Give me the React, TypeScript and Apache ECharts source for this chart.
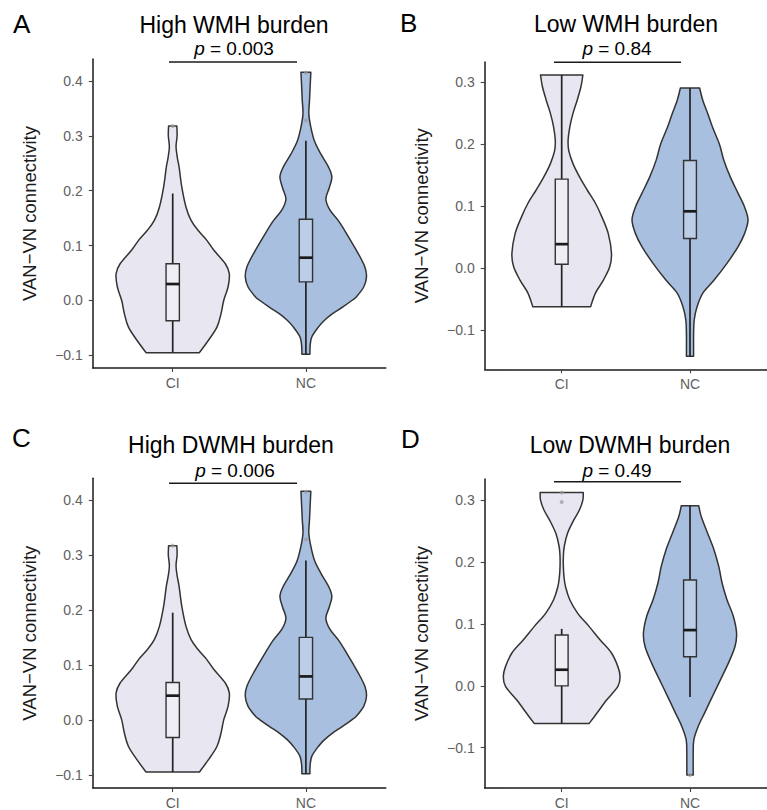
import React, { useEffect, useRef } from "react";
import * as echarts from "echarts";

// ---------- data ----------
const categories = ["CI", "NC"];
const yTicksHigh = [-0.1, 0, 0.1, 0.2, 0.3, 0.4];
const yTicksLow = [-0.1, 0, 0.1, 0.2, 0.3];

const panelLetters = ["A", "B", "C", "D"];
const panelTitles = ["High WMH burden", "Low WMH burden", "High DWMH burden", "Low DWMH burden"];
const pValues = ["0.003", "0.84", "0.006", "0.49"];

// violin profiles: [value, half-width in category units], top to bottom
const violinA_CI = [
  [0.318, 0.031], [0.3, 0.033], [0.28, 0.025], [0.26, 0.035], [0.243, 0.048], [0.207, 0.068],
  [0.17, 0.1], [0.146, 0.138], [0.128, 0.19], [0.11, 0.255], [0.092, 0.308], [0.067, 0.395],
  [0.049, 0.425], [0.025, 0.416], [0.0, 0.383], [-0.024, 0.363], [-0.048, 0.333], [-0.072, 0.27],
  [-0.095, 0.2],
];
const violinA_NC = [
  [0.416, 0.037], [0.39, 0.032], [0.364, 0.027], [0.34, 0.022], [0.316, 0.037], [0.29, 0.065],
  [0.267, 0.112], [0.243, 0.17], [0.225, 0.195], [0.205, 0.175], [0.185, 0.15], [0.165, 0.18],
  [0.145, 0.245], [0.122, 0.305], [0.086, 0.392], [0.061, 0.443], [0.043, 0.455], [0.025, 0.435],
  [0.007, 0.38], [0.0, 0.345], [-0.012, 0.275], [-0.024, 0.2], [-0.036, 0.14], [-0.048, 0.095],
  [-0.066, 0.045], [-0.082, 0.032], [-0.098, 0.03],
];
const violinB_CI = [
  [0.312, 0.165], [0.293, 0.15], [0.271, 0.12], [0.25, 0.088], [0.228, 0.063], [0.207, 0.05],
  [0.19, 0.055], [0.169, 0.088], [0.148, 0.138], [0.126, 0.2], [0.105, 0.263], [0.083, 0.313],
  [0.056, 0.363], [0.024, 0.388], [0.003, 0.375], [-0.019, 0.325], [-0.04, 0.263], [-0.062, 0.225],
];
const violinB_NC = [
  [0.291, 0.075], [0.271, 0.1], [0.25, 0.138], [0.228, 0.175], [0.2, 0.23], [0.175, 0.263],
  [0.148, 0.313], [0.121, 0.375], [0.099, 0.425], [0.078, 0.452], [0.056, 0.425], [0.035, 0.375],
  [0.008, 0.288], [-0.019, 0.188], [-0.04, 0.1], [-0.062, 0.055], [-0.083, 0.033], [-0.105, 0.028],
  [-0.142, 0.028],
];
const violinC_CI = [
  [0.317, 0.031], [0.3, 0.033], [0.28, 0.025], [0.26, 0.035], [0.243, 0.048], [0.207, 0.068],
  [0.17, 0.1], [0.146, 0.138], [0.128, 0.19], [0.11, 0.255], [0.092, 0.308], [0.067, 0.395],
  [0.049, 0.425], [0.025, 0.416], [0.0, 0.383], [-0.024, 0.363], [-0.048, 0.333], [-0.072, 0.27],
  [-0.095, 0.2],
];
const violinC_NC = [
  [0.416, 0.037], [0.39, 0.032], [0.364, 0.027], [0.34, 0.022], [0.316, 0.037], [0.29, 0.065],
  [0.267, 0.112], [0.243, 0.17], [0.225, 0.195], [0.205, 0.175], [0.185, 0.15], [0.165, 0.18],
  [0.145, 0.245], [0.122, 0.305], [0.086, 0.392], [0.061, 0.443], [0.043, 0.455], [0.025, 0.435],
  [0.007, 0.38], [0.0, 0.345], [-0.012, 0.275], [-0.024, 0.2], [-0.036, 0.14], [-0.048, 0.095],
  [-0.066, 0.045], [-0.082, 0.032], [-0.098, 0.03],
];
const violinD_CI = [
  [0.312, 0.168], [0.3, 0.165], [0.284, 0.138], [0.268, 0.095], [0.246, 0.045], [0.225, 0.02],
  [0.209, 0.013], [0.192, 0.013], [0.176, 0.018], [0.16, 0.03], [0.139, 0.063], [0.117, 0.125],
  [0.096, 0.213], [0.074, 0.3], [0.053, 0.388], [0.031, 0.438], [0.015, 0.455], [-0.001, 0.438],
  [-0.023, 0.35], [-0.044, 0.275], [-0.061, 0.213],
];
const violinD_NC = [
  [0.291, 0.068], [0.273, 0.088], [0.246, 0.138], [0.219, 0.188], [0.192, 0.225], [0.166, 0.25],
  [0.139, 0.288], [0.112, 0.338], [0.085, 0.363], [0.063, 0.35], [0.037, 0.3], [0.01, 0.238],
  [-0.017, 0.175], [-0.044, 0.113], [-0.066, 0.063], [-0.087, 0.03], [-0.109, 0.025], [-0.144, 0.025],
];

// box stats: [whisker low, Q1, median, Q3, whisker high]
const boxA_CI = [-0.095, -0.037, 0.03, 0.067, 0.195];
const boxA_NC = [-0.098, 0.034, 0.078, 0.148, 0.291];
const boxB_CI = [-0.062, 0.0065, 0.039, 0.144, 0.312];
const boxB_NC = [-0.142, 0.048, 0.092, 0.174, 0.291];
const boxC_CI = [-0.095, -0.032, 0.044, 0.068, 0.195];
const boxC_NC = [-0.098, 0.038, 0.079, 0.15, 0.29];
const boxD_CI = [-0.061, 0.0, 0.026, 0.082, 0.092];
const boxD_NC = [-0.018, 0.047, 0.09, 0.171, 0.291];

// outliers
const outA_CI = [0.318];
const outA_NC = [0.328, 0.415];
const outB_CI: number[] = [];
const outB_NC: number[] = [];
const outC_CI = [0.317];
const outC_NC = [0.328, 0.415];
const outD_CI = [0.312, 0.297];
const outD_NC = [-0.144];

// ---------- styling / layout ----------
const FONT = "'Liberation Sans', Arial, Helvetica, sans-serif";
const FILL_CI = "#e8e6f0";
const FILL_NC = "#a8bfe0";
const BOXFILL_CI = "#efeef5";
const BOXFILL_NC = "#bccde8";
const OUTLINE = "#333333";

const panels = [
  { grid: { left: 92.8, top: 59, width: 293, height: 309 }, yMin: -0.123, yMax: 0.44, ticks: yTicksHigh,
    violins: [violinA_CI, violinA_NC], boxes: [boxA_CI, boxA_NC], outs: [outA_CI, outA_NC],
    letter: [13, 24], title: [234, 25], p: [234, 48.5], bracket: [169, 297, 62] },
  { grid: { left: 484.7, top: 62, width: 293, height: 307.3 }, yMin: -0.163, yMax: 0.333, ticks: yTicksLow,
    violins: [violinB_CI, violinB_NC], boxes: [boxB_CI, boxB_NC], outs: [outB_CI, outB_NC],
    letter: [400, 22.5], title: [626, 23.5], p: [617, 48.5], bracket: [554, 681, 62.3] },
  { grid: { left: 92.8, top: 478.3, width: 293, height: 310 }, yMin: -0.124, yMax: 0.4395, ticks: yTicksHigh,
    violins: [violinC_CI, violinC_NC], boxes: [boxC_CI, boxC_NC], outs: [outC_CI, outC_NC],
    letter: [12, 437.5], title: [231, 445], p: [235, 470.5], bracket: [169, 297, 483.3] },
  { grid: { left: 484.7, top: 479, width: 293, height: 309.3 }, yMin: -0.165, yMax: 0.334, ticks: yTicksLow,
    violins: [violinD_CI, violinD_NC], boxes: [boxD_CI, boxD_NC], outs: [outD_CI, outD_NC],
    letter: [401, 439], title: [630, 445], p: [617, 470.5], bracket: [554, 681, 481.7] },
];

function fmtTick(v: number) {
  const s = Math.abs(v).toFixed(1);
  return v < -1e-9 ? "\u2212" + s : s;
}

// smooth outline through points (Catmull-Rom rendered as cubic Bezier)
function smoothSegs(pts: number[][]) {
  let d = "";
  const n = pts.length;
  for (let i = 0; i < n - 1; i++) {
    const p0 = pts[Math.max(0, i - 1)];
    const p1 = pts[i];
    const p2 = pts[i + 1];
    const p3 = pts[Math.min(n - 1, i + 2)];
    const c1x = p1[0] + (p2[0] - p0[0]) / 6;
    const c1y = p1[1] + (p2[1] - p0[1]) / 6;
    const c2x = p2[0] - (p3[0] - p1[0]) / 6;
    const c2y = p2[1] - (p3[1] - p1[1]) / 6;
    d += ` C${c1x.toFixed(2)},${c1y.toFixed(2)} ${c2x.toFixed(2)},${c2y.toFixed(2)} ${p2[0].toFixed(2)},${p2[1].toFixed(2)}`;
  }
  return d;
}

function buildOption() {
  const grids: any[] = [];
  const xAxes: any[] = [];
  const yAxes: any[] = [];
  const series: any[] = [];
  const graphic: any[] = [];

  panels.forEach((p, pi) => {
    grids.push({ ...p.grid });
    xAxes.push({
      type: "value", gridIndex: pi, min: 0.4, max: 2.6,
      axisLine: { show: true, onZero: false, lineStyle: { color: "#1a1a1a", width: 1.5 } },
      axisTick: { show: true, customValues: [1, 2], length: 4, lineStyle: { color: "#444", width: 1.1 } },
      axisLabel: {
        customValues: [1, 2], margin: 8, color: "#606060", fontSize: 14, fontFamily: FONT,
        formatter: (v: number) => categories[Math.round(v) - 1] ?? "",
      },
      splitLine: { show: false },
    });
    yAxes.push({
      type: "value", gridIndex: pi, min: p.yMin, max: p.yMax,
      name: "VAN\u2212VN connectivity", nameLocation: "middle", nameGap: 54, nameRotate: 90,
      nameTextStyle: { fontSize: 18.5, color: "#1a1a1a", fontFamily: FONT },
      axisLine: { show: true, onZero: false, lineStyle: { color: "#1a1a1a", width: 1.5 } },
      axisTick: { show: true, customValues: p.ticks, length: 4, lineStyle: { color: "#444", width: 1.1 } },
      axisLabel: {
        customValues: p.ticks, margin: 10, color: "#606060", fontSize: 14, fontFamily: FONT,
        formatter: (v: number) => fmtTick(v),
      },
      splitLine: { show: false },
    });

    const groups = [0, 1].map((gi) => ({
      pos: gi + 1,
      prof: p.violins[gi],
      box: p.boxes[gi],
      out: p.outs[gi],
      fill: gi === 0 ? FILL_CI : FILL_NC,
      boxFill: gi === 0 ? BOXFILL_CI : BOXFILL_NC,
    }));

    series.push({
      type: "custom",
      xAxisIndex: pi,
      yAxisIndex: pi,
      data: groups.map((g) => [g.pos, g.box[2]]),
      encode: { x: 0, y: 1 },
      clip: false,
      renderItem: (params: any, api: any) => {
        const g = groups[params.dataIndex];
        const right = g.prof.map(([v, h]: number[]) => api.coord([g.pos + h, v]));
        const left = g.prof.slice().reverse().map(([v, h]: number[]) => api.coord([g.pos - h, v]));
        let d = `M${right[0][0].toFixed(2)},${right[0][1].toFixed(2)}` + smoothSegs(right);
        d += ` L${left[0][0].toFixed(2)},${left[0][1].toFixed(2)}` + smoothSegs(left) + " Z";
        const bw = 0.05;
        const [lo, q1, med, q3, hi] = g.box;
        const pLo = api.coord([g.pos, lo]);
        const pHi = api.coord([g.pos, hi]);
        const bl = api.coord([g.pos - bw, q3]);
        const br = api.coord([g.pos + bw, q1]);
        const ml = api.coord([g.pos - bw, med]);
        const mr = api.coord([g.pos + bw, med]);
        const children: any[] = [
          {
            type: "path",
            shape: { pathData: d },
            style: { fill: g.fill, stroke: OUTLINE, lineWidth: 1.5, lineJoin: "round" },
          },
          {
            type: "line",
            shape: { x1: pLo[0], y1: pLo[1], x2: pHi[0], y2: pHi[1] },
            style: { stroke: "#222", lineWidth: 1.7 },
          },
          {
            type: "rect",
            shape: { x: bl[0], y: bl[1], width: br[0] - bl[0], height: br[1] - bl[1] },
            style: { fill: g.boxFill, stroke: OUTLINE, lineWidth: 1.4 },
          },
          {
            type: "line",
            shape: { x1: ml[0], y1: ml[1], x2: mr[0], y2: mr[1] },
            style: { stroke: "#1a1a1a", lineWidth: 2.7 },
          },
        ];
        g.out.forEach((o: number) => {
          const c = api.coord([g.pos, o]);
          children.push({
            type: "circle",
            shape: { cx: c[0], cy: c[1], r: 2 },
            style: { fill: "#9a9a9a", opacity: 0.7 },
          });
        });
        return { type: "group", children };
      },
    });

    // annotations
    graphic.push({
      type: "text", x: p.letter[0], y: p.letter[1],
      style: { text: panelLetters[pi], fontSize: 26, fontFamily: FONT, fill: "#000",
        align: "left", verticalAlign: "middle" },
    });
    graphic.push({
      type: "text", x: p.title[0], y: p.title[1],
      style: { text: panelTitles[pi], fontSize: 23, fontFamily: FONT, fill: "#000",
        align: "center", verticalAlign: "middle" },
    });
    graphic.push({
      type: "text", x: p.p[0], y: p.p[1],
      style: {
        text: "{i|p} = " + pValues[pi], fontSize: 19, fontFamily: FONT, fill: "#000",
        align: "center", verticalAlign: "middle",
        rich: { i: { fontStyle: "italic", fontSize: 19, fontFamily: FONT, fill: "#000" } },
      },
    });
    graphic.push({
      type: "line",
      shape: { x1: p.bracket[0], y1: p.bracket[2], x2: p.bracket[1], y2: p.bracket[2] },
      style: { stroke: "#1a1a1a", lineWidth: 1.5 },
    });
  });

  return {
    animation: false,
    backgroundColor: "#ffffff",
    grid: grids,
    xAxis: xAxes,
    yAxis: yAxes,
    series,
    graphic,
  };
}

export default function App() {
  const ref = useRef<HTMLDivElement>(null);
  useEffect(() => {
    if (!ref.current) return;
    const chart = echarts.init(ref.current, null, { renderer: "svg" });
    chart.setOption(buildOption() as any);
    return () => chart.dispose();
  }, []);
  return (
    <div
      ref={ref}
      style={{ position: "absolute", left: 0, top: 0, width: 767, height: 810, background: "#fff" }}
    />
  );
}
